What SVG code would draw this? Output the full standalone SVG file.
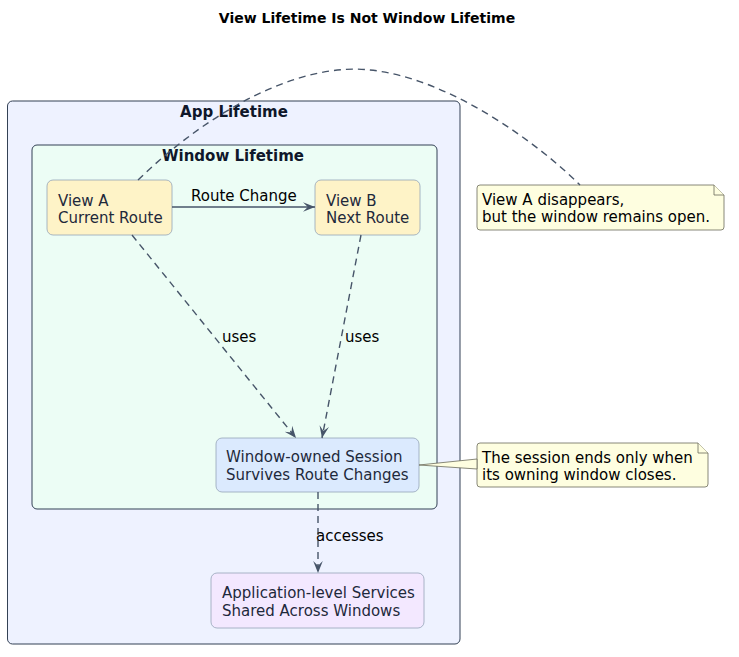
<svg xmlns="http://www.w3.org/2000/svg" width="739" height="657" viewBox="0 0 739 657">
<style>
text{font-family:"DejaVu Sans","Liberation Sans",sans-serif;font-size:15px;fill:#1e293b}
.title{font-weight:bold;font-size:14px;fill:#000}
.ctitle{font-weight:bold;fill:#0f172a}
.cont{stroke:#334155;stroke-width:1}
.node{stroke:#94a3b8;stroke-width:0.8}
.note{fill:#fefee0;stroke:#6b6b5a;stroke-width:0.8}
.ntext{fill:#000}
.edge{fill:none;stroke:#475569;stroke-width:1.4}
.dash{stroke-dasharray:7,5}
.lbl{fill:#000}
</style>
<defs>
<marker id="ah" viewBox="0 0 10 10" refX="10" refY="5" markerWidth="12" markerHeight="12" markerUnits="userSpaceOnUse" orient="auto">
<path d="M0,1 L10,5 L0,9 L4,5 Z" fill="#475569"/>
</marker>
</defs>
<rect width="739" height="657" fill="#ffffff"/>
<text class="title" x="367" y="23" text-anchor="middle">View Lifetime Is Not Window Lifetime</text>

<g id="app">
<rect class="cont" x="7.5" y="101" width="452.5" height="543" rx="5" fill="#eef2ff"/>
<text class="ctitle" x="234" y="117" text-anchor="middle">App Lifetime</text>
</g>
<g id="window">
<rect class="cont" x="32" y="145" width="405" height="364" rx="5" fill="#ecfdf5"/>
<text class="ctitle" x="233" y="161" text-anchor="middle">Window Lifetime</text>
</g>

<g id="viewA">
<rect class="node" x="47" y="180" width="125" height="55" rx="6" fill="#fef3c7"/>
<text x="58" y="206">View A</text>
<text x="58" y="223">Current Route</text>
</g>
<g id="viewB">
<rect class="node" x="315" y="180" width="105" height="55" rx="6" fill="#fef3c7"/>
<text x="326" y="206">View B</text>
<text x="326" y="223">Next Route</text>
</g>
<g id="session">
<rect class="node" x="216" y="438" width="203" height="54" rx="6" fill="#dbeafe"/>
<text x="226" y="462">Window-owned Session</text>
<text x="226" y="480">Survives Route Changes</text>
</g>
<g id="services">
<rect class="node" x="211" y="573" width="213" height="55" rx="6" fill="#f3e8ff"/>
<text x="222" y="598">Application-level Services</text>
<text x="222" y="616">Shared Across Windows</text>
</g>

<g id="note1">
<path class="note" d="M477,188 Q477,185 480,185 H714 L724,195 V227 Q724,230 721,230 H480 Q477,230 477,227 Z"/>
<path class="note" d="M714,185 V195 H724" fill="none"/>
<text class="ntext" x="482" y="205">View A disappears,</text>
<text class="ntext" x="482" y="222">but the window remains open.</text>
</g>
<g id="note2">
<path class="note" d="M477,446 Q477,443 480,443 H698 L708,453 V484 Q708,487 705,487 H480 Q477,487 477,484 Z"/>
<path class="note" d="M698,443 V453 H708" fill="none"/>
<text class="ntext" x="482" y="463">The session ends only when</text>
<text class="ntext" x="482" y="480">its owning window closes.</text>
</g>

<g id="connectors">
<path class="edge" d="M172,207 L315,207" marker-end="url(#ah)"/>
<text class="lbl" x="191" y="201">Route Change</text>
<path class="edge dash" d="M132,235 L296,438" marker-end="url(#ah)"/>
<text class="lbl" x="222" y="342">uses</text>
<path class="edge dash" d="M361,235 L322,438" marker-end="url(#ah)"/>
<text class="lbl" x="345" y="342">uses</text>
<path class="edge dash" d="M318,492 L318,573" marker-end="url(#ah)"/>
<text class="lbl" x="316" y="541">accesses</text>
<path class="edge dash" d="M138,180 C210,110 300,62 370,70 C450,78 540,145 580,185" stroke-width="1.2"/>
<polygon points="419,465 477,459 477,469" fill="#fefee0" stroke="#6b6b5a" stroke-width="0.8"/>
</g>
</svg>
